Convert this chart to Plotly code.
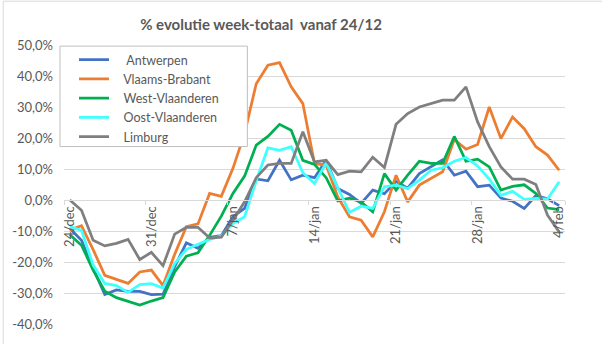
import plotly.graph_objects as go

# Daily categories 24/dec .. 4/feb
months = ["dec"] * 8 + ["jan"] * 31 + ["feb"] * 4
day_nums = list(range(24, 32)) + list(range(1, 32)) + list(range(1, 5))
days = [f"{d}/{m}" for d, m in zip(day_nums, months)]

tick_labels = ["24/dec", "31/dec", "7/jan", "14/jan", "21/jan", "28/jan", "4/feb"]

antwerpen = [-9.2, -13, -22, -30.5, -29, -29.5, -29.5, -30.5, -30.4, -21.5,
             -13.8, -15.6, -12, -11.5, -5.4, -2.7, 6.8, 6.2, 12.8, 6.5,
             8, 7.2, 12.8, 3.7, 1.8, -1.1, 3.2, 2, 6, 3.8,
             8.5, 10.7, 13, 8, 9.3, 4.3, 4.8, 0.6, -0.4, -2.7,
             1.4, 0.4, -1.8]
vlaams_brabant = [-9.7, -8.3, -16, -24.3, -25.6, -26.9, -23.2, -22.6, -27.6, -17.5,
                  -8.6, -7.7, 2.1, 1.2, 10.2, 21.5, 37.5, 43.5, 44.3, 36.5,
                  31.1, 11.8, 11.2, 1, -5.4, -6.5, -11.9, -3.8, 8, -0.6,
                  4.8, 6.9, 9.1, 19.5, 16.4, 17.9, 30, 19.8, 26.8, 23,
                  17.2, 14.5, 9.6]
west_vlaanderen = [-11.2, -14.6, -22.6, -29.4, -31.5, -32.8, -33.9, -32.6, -31.5, -23.2,
                   -18.1, -17, -11.4, -5.2, 2.1, 7.7, 17.7, 20.5, 24.4, 22.5,
                   12.8, 11.5, 7.2, -0.3, 0.6, -0.6, -3.8, 8.5, 3.2, 8,
                   12.5, 11.8, 11.8, 20.5, 12.5, 13.2, 10.7, 3.2, 4.4, 4.9,
                   2.1, -2.6, -3.1]
oost_vlaanderen = [-8.6, -9.8, -21, -26.9, -27.6, -29.8, -27.3, -27, -28.4, -20.5,
                   -15.9, -14.4, -12.7, -11.6, -7.6, -5.4, 6.2, 16.8, 16, 17.2,
                   8.8, 5.3, 12, 4, -4, -2, -2.7, 4.3, 4.8, 3.7,
                   6.4, 9.6, 10.4, 12.5, 13.7, 11, 6.7, 1.5, 2.8, 0.2,
                   0.5, 0.3, 5.9]
limburg = [0, -3.3, -13, -14.8, -14, -12.7, -19.2, -16.9, -21.2, -11,
           -8.8, -8.8, -12.3, -12, -6.5, -0.6, 7.2, 11.3, 11.8, 11.8,
           22, 12.3, 12.8, 8.2, 9.3, 9.1, 13.8, 10.5, 24.4, 27.9,
           30, 31.1, 32.2, 32.2, 36.5, 25.2, 17.2, 10.7, 6.7, 6.7,
           5, -4.9, -10.3]

series = [
    (" Antwerpen", antwerpen, "#4472C4"),
    ("Vlaams-Brabant", vlaams_brabant, "#ED7D31"),
    ("West-Vlaanderen", west_vlaanderen, "#00B050"),
    ("Oost-Vlaanderen", oost_vlaanderen, "#40FFFF"),
    ("Limburg", limburg, "#7F7F7F"),
]

FONT = "Lato"
TXT = "#595959"
GRID = "#D9D9D9"
PAD_L = "\u00a0" * 3  # gap between legend swatch and label

fig = go.Figure()
for name, vals, color in series:
    label = PAD_L + name.replace(" ", "\u00a0")
    fig.add_trace(go.Scatter(
        x=days, y=vals, name=label, mode="lines",
        line=dict(color=color, width=2.75),
    ))

y_ticks = list(range(-40, 51, 10))

# Legend frame, drawn as a filled box underneath the legend entries
legend_frame = dict(
    type="rect", xref="paper", yref="paper", layer="above",
    x0=-0.008, x1=0.366, y0=0.636, y1=0.996,
    fillcolor="white", line=dict(color="#BFBFBF", width=1),
)

fig.update_layout(
    width=602, height=344,
    margin=dict(l=62, r=37, t=45, b=19),
    paper_bgcolor="white", plot_bgcolor="white",
    separators=",.",
    font=dict(family=FONT, size=13, color=TXT),
    title=dict(
        text="<b>% evolutie week-totaal \u00a0vanaf 24/12</b>",
        xref="container", x=261 / 602, xanchor="center",
        yref="container", y=1 - 25 / 344, yanchor="middle",
        font=dict(family=FONT, size=15, color=TXT),
    ),
    showlegend=True,
    legend=dict(
        x=-0.008, y=1.0, xanchor="left", yanchor="top",
        bgcolor="rgba(0,0,0,0)", borderwidth=0,
        font=dict(family=FONT, size=12.5, color=TXT),
        indentation=14, tracegroupgap=0,
    ),
    xaxis=dict(
        type="category",
        categoryorder="array", categoryarray=days,
        tickmode="array", tickvals=tick_labels, ticktext=tick_labels,
        tickangle=-90, tickfont=dict(family=FONT, size=13, color=TXT),
        anchor="free", position=40 / 90,
        showgrid=False, showline=True, linecolor=GRID, linewidth=1,
        ticks="outside", ticklen=4, tickcolor=GRID, tickson="boundaries",
        range=[-0.5, len(days) - 0.5],
        zeroline=False,
    ),
    yaxis=dict(
        range=[-40, 50],
        tickmode="array", tickvals=y_ticks,
        ticktext=[f"{v},0%" for v in y_ticks],
        tickfont=dict(family=FONT, size=13, color=TXT),
        showgrid=True, gridcolor=GRID, gridwidth=1,
        zeroline=False, showline=False, ticks="",
        ticklabelstandoff=10,
    ),
    shapes=[
        legend_frame,
        dict(type="line", xref="paper", yref="paper",
             x0=(1 - 62) / 503, x1=1.2, y0=1 + 44 / 280, y1=1 + 44 / 280,
             line=dict(color="#D9D9D9", width=1)),
        dict(type="line", xref="paper", yref="paper",
             x0=(1 - 62) / 503, x1=(1 - 62) / 503, y0=1 + 44 / 280, y1=-0.2,
             line=dict(color="#D9D9D9", width=1)),
    ],
)

fig.write_html("out.html")
